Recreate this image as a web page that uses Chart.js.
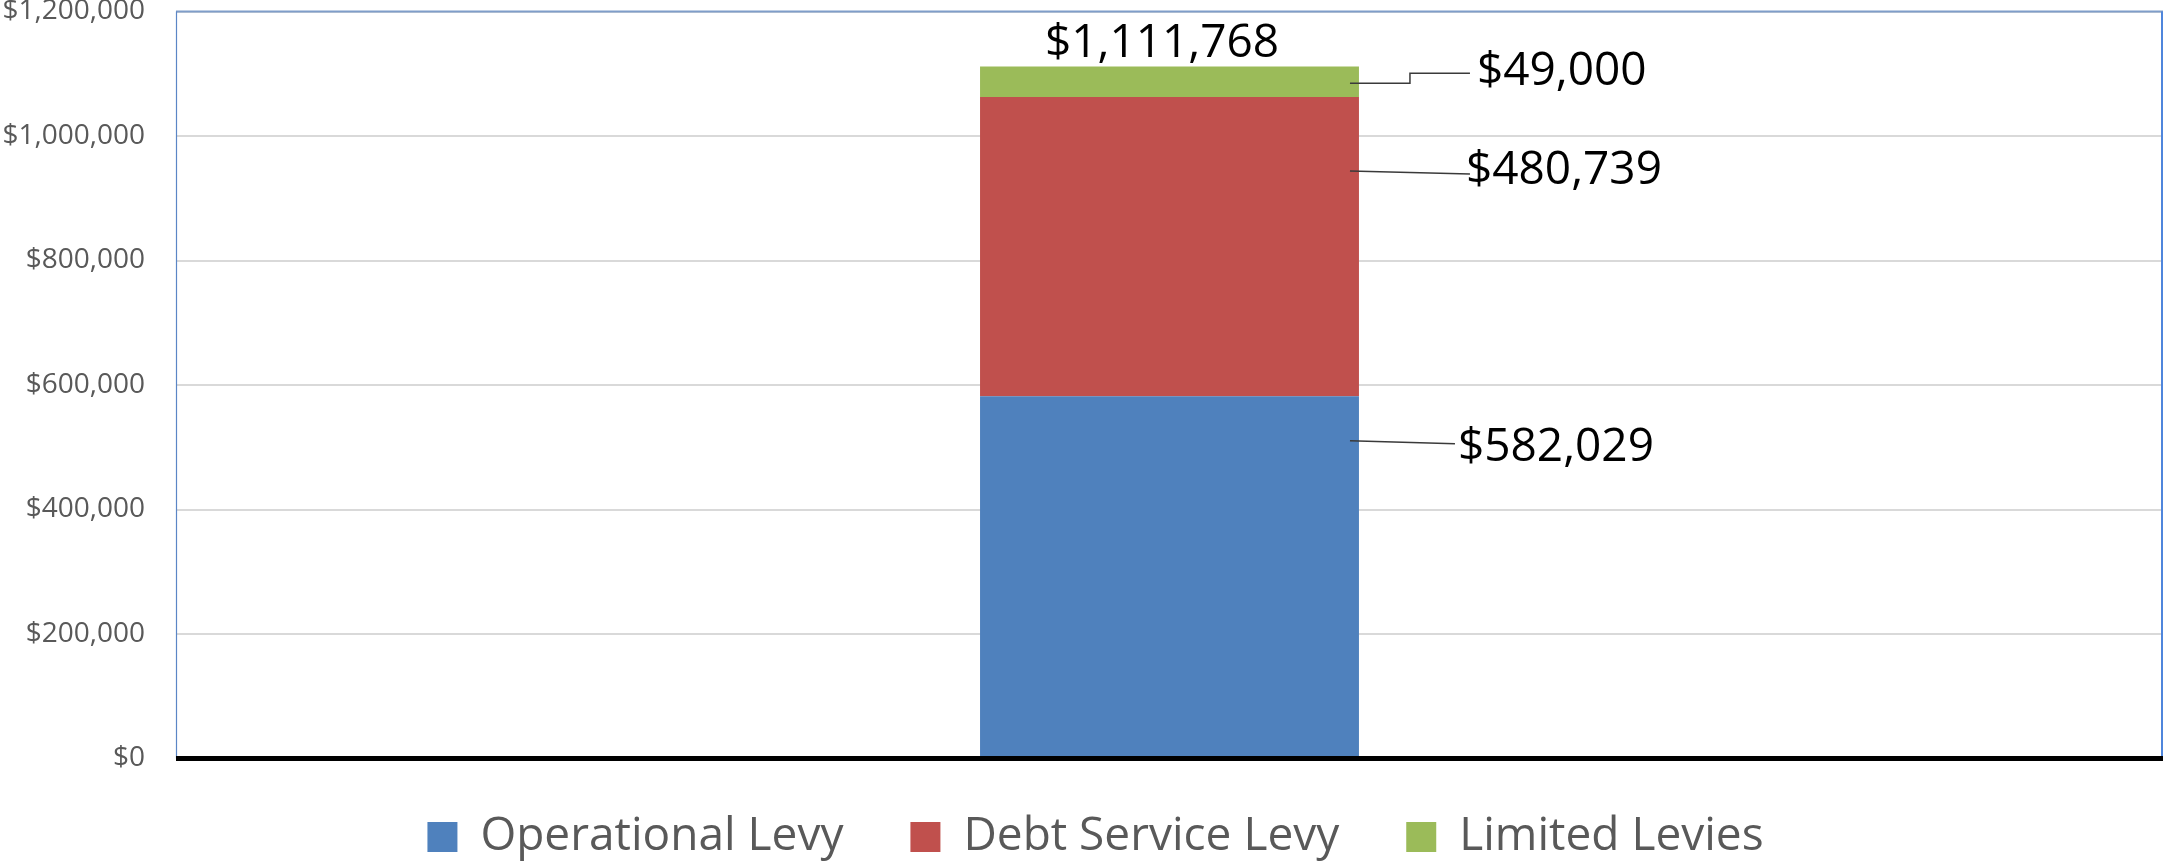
<!DOCTYPE html>
<html>
<head>
<meta charset="utf-8">
<title>Levy Chart</title>
<script src="https://cdn.jsdelivr.net/npm/chart.js@4.4.1/dist/chart.umd.min.js"></script>
<style>
body{margin:0;background:#fff}
#wrap{width:2164px;height:863px}
</style>
</head>
<body>
<div id="wrap"><canvas id="levyChart" width="2164" height="863"></canvas></div>
<script>
/* ====================================
   CHART DATA
==================================== */

const categories=[""]
const seriesNames=["Operational Levy","Debt Service Levy","Limited Levies"]
const operationalLevy=[582029]
const debtServiceLevy=[480739]
const limitedLevies=[49000]
const yTicks=[0,200000,400000,600000,800000,1000000,1200000]


/* ====================================
   STYLE
==================================== */

const seriesColors=["#4f81bd","#c0504d","#9bbb59"]
const fontName="'Open Sans', sans-serif"

// where each data label sits, relative to its bar segment (pixels)
const labelLayout=[
{dx:99,dy:-134,lead:-136,endDx:-3,endDy:1,elbow:false},
{dx:107,dy:-80.5,lead:-75.5,endDx:4,endDy:8,elbow:false},
{dx:118,dy:-15,lead:1.5,endDx:-7,endDy:6.5,elbow:true}
]
const textShift=5

function money(v){
return "$"+Math.round(v).toLocaleString("en-US")
}


/* ====================================
   BORDER, BASELINE AND LABELS PLUGIN
==================================== */

const levyExtras={

id:"levyExtras",

// move the legend row down under the axis
afterLayout(chart){
const lg=chart.legend
const top=837-23-lg.options.labels.padding
lg.top=top
lg.bottom=chart.height
lg.height=lg.bottom-lg.top
lg.left+=14
lg.right+=14
},

afterDatasetsDraw(chart){

const ctx=chart.ctx
const a=chart.chartArea
const y0=chart.scales.y.getPixelForValue(0)

ctx.save()

// plot border
ctx.strokeStyle="#7f9dc9"
ctx.lineWidth=2
ctx.beginPath()
ctx.moveTo(a.left,a.top)
ctx.lineTo(a.right,a.top)
ctx.stroke()

ctx.strokeStyle="#5b86c6"
ctx.lineWidth=1.2
ctx.beginPath()
ctx.moveTo(a.left+0.5,a.top)
ctx.lineTo(a.left+0.5,y0)
ctx.stroke()

ctx.strokeStyle="#4f86dc"
ctx.lineWidth=2
ctx.beginPath()
ctx.moveTo(a.right-1,a.top)
ctx.lineTo(a.right-1,y0)
ctx.stroke()

// thick zero line
ctx.strokeStyle="#000"
ctx.lineWidth=5
ctx.beginPath()
ctx.moveTo(a.left,y0)
ctx.lineTo(a.right,y0)
ctx.stroke()

// segment labels with leader lines
ctx.font="46px "+fontName
ctx.fillStyle="#000"
ctx.textBaseline="middle"
ctx.textAlign="left"

let top=y0
let total=0
let barX=0

chart.data.datasets.forEach((ds,i)=>{

const bar=chart.getDatasetMeta(i).data[0]
const p=bar.getProps(["x","y","base","width"],true)
const right=p.x+p.width/2
const mid=(p.y+p.base)/2
const L=labelLayout[i]

const tx=right+L.dx
const ty=mid+L.dy
const sx=right-9
const sy=mid+L.lead
const ex=tx+L.endDx
const ey=ty+L.endDy

ctx.strokeStyle="#3a3a3a"
ctx.lineWidth=1.5
ctx.beginPath()
ctx.moveTo(sx,sy)
if(L.elbow){
const kx=right+51
ctx.lineTo(kx,sy)
ctx.lineTo(kx,ey)
}
ctx.lineTo(ex,ey)
ctx.stroke()

ctx.fillText(money(ds.data[0]),tx,ty+textShift)

top=Math.min(top,p.y)
total+=ds.data[0]
barX=p.x

})

// total on top of the stack
ctx.textAlign="center"
ctx.fillText(money(total),barX-7.5,top-28+textShift)

ctx.restore()

}

}


/* ====================================
   DRAW CHART
==================================== */

new Chart(document.getElementById("levyChart"),{

type:"bar",

data:{
labels:categories,
datasets:[
{label:seriesNames[0],data:operationalLevy,backgroundColor:seriesColors[0],borderWidth:0},
{label:seriesNames[1],data:debtServiceLevy,backgroundColor:seriesColors[1],borderWidth:0},
{label:seriesNames[2],data:limitedLevies,backgroundColor:seriesColors[2],borderWidth:0}
]
},

options:{

responsive:false,
animation:false,

layout:{padding:{top:11.5,right:1,bottom:4.5,left:0}},

datasets:{bar:{categoryPercentage:1,barPercentage:0.1907}},

plugins:{
tooltip:{enabled:false},
legend:{
position:"bottom",
maxHeight:100,
labels:{
color:"#595959",
font:{family:fontName,size:46},
boxWidth:30,
boxHeight:30,
padding:67
}
}
},

scales:{

x:{
stacked:true,
display:false
},

y:{
stacked:true,
min:0,
max:1200000,
afterBuildTicks:s=>{s.ticks=yTicks.map(v=>({value:v}))},
afterFit:s=>{s.width=176;s.paddingTop=0;s.paddingBottom=0},
grid:{color:"#d9d9d9",lineWidth:2,drawTicks:false},
border:{display:false},
ticks:{
color:"#595959",
padding:31,
font:{family:fontName,size:28},
callback:v=>money(v)
}
}

}

},

plugins:[levyExtras]

})
</script>
</body>
</html>
